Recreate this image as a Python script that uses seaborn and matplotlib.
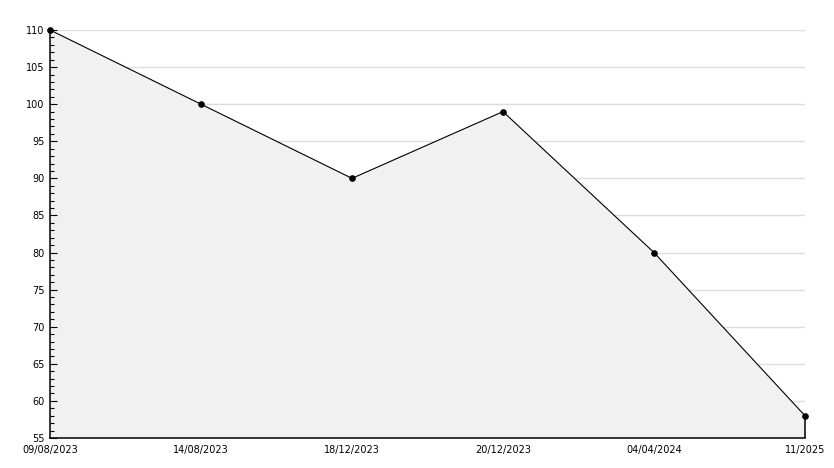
import matplotlib
matplotlib.use("Agg")
import matplotlib.pyplot as plt
import seaborn as sns
import pandas as pd
from matplotlib.ticker import MultipleLocator

dates = ["09/08/2023", "14/08/2023", "18/12/2023", "20/12/2023", "04/04/2024", "11/2025"]
values = [110, 100, 90, 99, 80, 58]
yticks = list(range(55, 111, 5))

df = pd.DataFrame({"pos": range(len(dates)), "value": values})

sns.set_theme(style="white")
plt.rcParams['font.family'] = ['DejaVu Sans']

fig = plt.figure(figsize=(8.34, 4.68), dpi=100)
ax = fig.add_axes([50/834, 1-438/468, (805-50)/834, (438-30)/468])

for yv in yticks[1:]:
    ax.axhline(yv, color="#dddddd", linewidth=1, zorder=0.1)
ax.fill_between(df["pos"], df["value"], 55, facecolor="#f1f1f1", edgecolor="none", zorder=0.2)
sns.lineplot(data=df, x="pos", y="value", ax=ax, color="black", linewidth=0.8,
             marker="o", markersize=4, markeredgecolor="black", markerfacecolor="black",
             zorder=3, clip_on=False)
# right edge of area
ax.vlines(df["pos"].iloc[-1], 55, df["value"].iloc[-1], color="black", linewidth=1.1,
          zorder=2, clip_on=False)

ax.set_xlim(0, len(dates)-1)
ax.set_ylim(55, 110)
ax.set_xticks(range(len(dates)))
ax.set_xticklabels(dates)
ax.set_yticks(yticks)
ax.yaxis.set_minor_locator(MultipleLocator(1))
ax.grid(False)
ax.set_axisbelow(False)
ax.set_xlabel("")
ax.set_ylabel("")

for s in ["top", "right"]:
    ax.spines[s].set_visible(False)
for s in ["left", "bottom"]:
    ax.spines[s].set_color("black")
    ax.spines[s].set_linewidth(1.1)
    ax.spines[s].set_zorder(2.5)

ax.tick_params(axis="y", which="major", direction="in", length=5, width=0.8, color="black",
               labelsize=7, pad=4, left=True)
ax.tick_params(axis="y", which="minor", direction="in", length=3, width=0.8, color="black", left=True)
ax.tick_params(axis="x", length=0, labelsize=7, pad=5)
for lbl in ax.get_yticklabels() + ax.get_xticklabels():
    lbl.set_color("black")

fig.savefig("out.png", dpi=100)
